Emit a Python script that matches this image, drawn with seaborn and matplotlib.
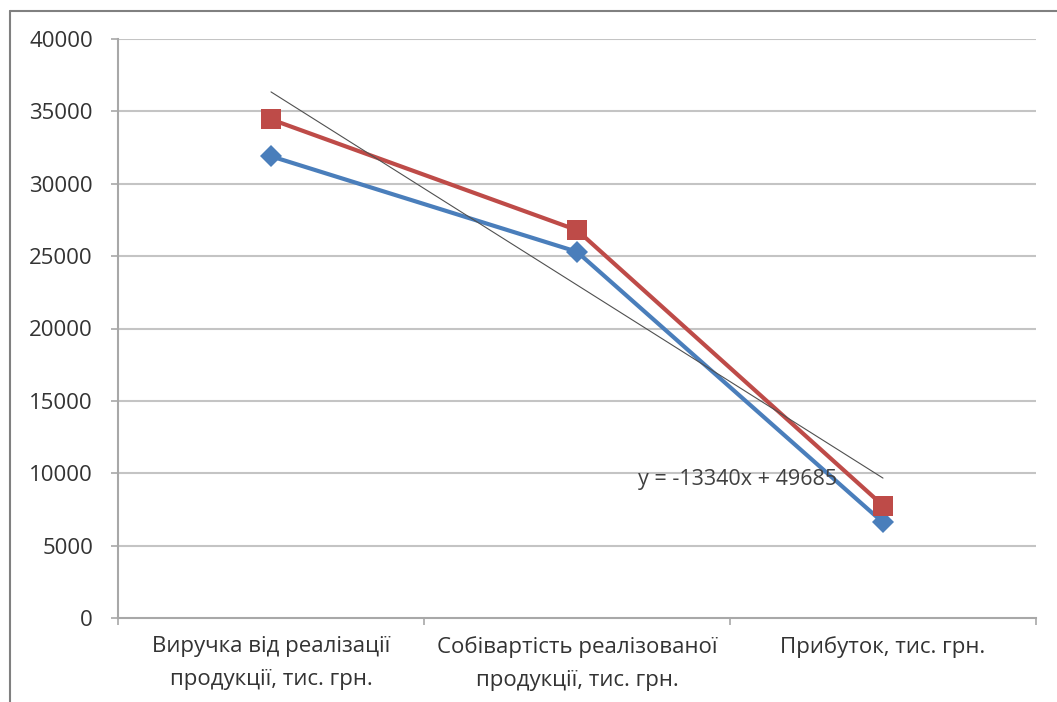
import numpy as np
import pandas as pd
import matplotlib
matplotlib.use("Agg")
import matplotlib.pyplot as plt
from matplotlib.lines import Line2D
import seaborn as sns

categories = ["Виручка від реалізації\nпродукції, тис. грн.",
              "Собівартість реалізованої\nпродукції, тис. грн.",
              "Прибуток, тис. грн."]
series_blue = [31900, 25300, 6600]
series_red = [34450, 26795, 7770]
y_ticks = [0, 5000, 10000, 15000, 20000, 25000, 30000, 35000, 40000]

sns.set_theme(style="white")
plt.rcParams['font.family'] = ['Open Sans', 'DejaVu Sans']

xs = np.arange(1, len(categories) + 1)
df = pd.DataFrame({"x": np.concatenate([xs, xs]),
                   "y": series_blue + series_red,
                   "s": ["blue"] * 3 + ["red"] * 3})

fig = plt.figure(figsize=(10.57, 7.02), dpi=100)
ax = fig.add_axes([118/1057, 1 - 618/702, (1036-118)/1057, (618-39)/702])

grid_c = "#C4C4C4"
for t in y_ticks[1:]:
    ax.axhline(t, color=grid_c, lw=1.5, zorder=0)

sns.lineplot(data=df[df.s == "blue"], x="x", y="y", ax=ax, color="#4A7EBB",
             lw=3.0, marker="D", markersize=11, markeredgewidth=0, zorder=3)
sns.lineplot(data=df[df.s == "red"], x="x", y="y", ax=ax, color="#BE4B48",
             lw=3.0, marker="s", markersize=15, markeredgewidth=0, zorder=4)
sns.regplot(x=xs, y=np.array(series_red), ax=ax, scatter=False, ci=None,
            truncate=True, line_kws=dict(color="#505050", lw=0.8, zorder=5))

k, b = np.polyfit(xs, series_red, 1)
ax.text(2.2, 9550, f"y = {k:.0f}x + {b:.0f}",
        fontsize=15.5, color="#404040", va="center", ha="left", zorder=6)

ax.set_xlim(0.5, 3.5)
ax.set_ylim(0, 40000)
ax.set_yticks(y_ticks)
ax.set_yticklabels([str(t) for t in y_ticks])
ax.set_xticks([0.5, 1.5, 2.5, 3.5])
ax.set_xticklabels([])
ax.set_xticks(xs, minor=True)
ax.set_xticklabels(categories, minor=True, fontsize=16, color="#333333",
                   linespacing=1.75)
ax.tick_params(axis="x", which="major", length=5, width=1.2, color="#A8A8A8",
               direction="out", bottom=True)
ax.tick_params(axis="x", which="minor", length=0, pad=13)
ax.tick_params(axis="y", length=5, width=1.2, color="#A8A8A8", direction="out",
               left=True, pad=13, labelsize=16, labelcolor="#333333")
ax.set_xlabel("")
ax.set_ylabel("")
for s in ["top", "right"]:
    ax.spines[s].set_visible(False)
for s in ["left", "bottom"]:
    ax.spines[s].set_color("#A8A8A8")
    ax.spines[s].set_linewidth(1.5)
ax.spines["bottom"].set_zorder(1)
ax.patch.set_alpha(0)
leg = ax.get_legend()
if leg:
    leg.remove()

fig.add_artist(Line2D([10/1057, 10/1057], [0, 1 - 11/702], color="#808080", lw=1.5))
fig.add_artist(Line2D([10/1057, 1], [1 - 11/702, 1 - 11/702], color="#808080", lw=1.5))

fig.savefig("out.png", dpi=100)
